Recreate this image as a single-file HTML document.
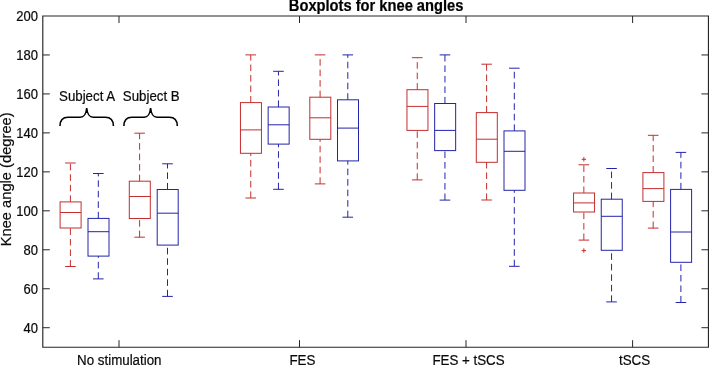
<!DOCTYPE html>
<html><head><meta charset="utf-8"><style>
html,body{margin:0;padding:0;background:#fff;width:709px;height:365px;overflow:hidden}
svg{display:block}
.t,.ts,.tx,.yl,.ti{font-family:"Liberation Sans",sans-serif;fill:#0a0a0a;stroke:#0a0a0a;stroke-width:0.2px}
.t{font-size:13px}
.ts{font-size:13.3px}
.tx{font-size:13.35px}
.ti{font-size:14.7px;font-weight:bold;fill:#000;stroke:#000}
.yl{font-size:14.7px}
</style></head><body>
<svg width="709" height="365" viewBox="0 0 709 365">
<path d="M42.8,16.0H708.45V347.2H42.8Z" fill="none" stroke="#262626" stroke-width="1.15"/>
<path d="M119,347.2V340.2M119,16.0V23.0M299.5,347.2V340.2M299.5,16.0V23.0M466,347.2V340.2M466,16.0V23.0M632.6,347.2V340.2M632.6,16.0V23.0M42.8,327.71H49.8M708.45,327.71H701.45M42.8,288.75H49.8M708.45,288.75H701.45M42.8,249.78H49.8M708.45,249.78H701.45M42.8,210.82H49.8M708.45,210.82H701.45M42.8,171.86H49.8M708.45,171.86H701.45M42.8,132.89H49.8M708.45,132.89H701.45M42.8,93.93H49.8M708.45,93.93H701.45M42.8,54.96H49.8M708.45,54.96H701.45" fill="none" stroke="#262626" stroke-width="1"/>
<line x1="70.40" y1="201.90" x2="70.40" y2="163.00" stroke="#c42e2e" stroke-width="1.0" stroke-dasharray="6.6 3.9"/>
<line x1="70.40" y1="266.50" x2="70.40" y2="228.00" stroke="#c42e2e" stroke-width="1.0" stroke-dasharray="6.6 3.9"/>
<line x1="65.10" y1="163.00" x2="75.70" y2="163.00" stroke="#c42e2e" stroke-width="1.0"/>
<line x1="65.10" y1="266.50" x2="75.70" y2="266.50" stroke="#c42e2e" stroke-width="1.0"/>
<rect x="60.10" y="201.90" width="21.00" height="26.10" fill="none" stroke="#c42e2e" stroke-width="1.0"/>
<line x1="60.10" y1="212.50" x2="81.10" y2="212.50" stroke="#c42e2e" stroke-width="1.0"/>
<line x1="98.30" y1="218.40" x2="98.30" y2="173.50" stroke="#2424aa" stroke-width="1.0" stroke-dasharray="6.6 3.9"/>
<line x1="98.30" y1="278.90" x2="98.30" y2="256.10" stroke="#2424aa" stroke-width="1.0" stroke-dasharray="6.6 3.9"/>
<line x1="93.00" y1="173.50" x2="103.60" y2="173.50" stroke="#2424aa" stroke-width="1.0"/>
<line x1="93.00" y1="278.90" x2="103.60" y2="278.90" stroke="#2424aa" stroke-width="1.0"/>
<rect x="88.00" y="218.40" width="21.00" height="37.70" fill="none" stroke="#2424aa" stroke-width="1.0"/>
<line x1="88.00" y1="231.70" x2="109.00" y2="231.70" stroke="#2424aa" stroke-width="1.0"/>
<line x1="139.60" y1="181.20" x2="139.60" y2="133.20" stroke="#c42e2e" stroke-width="1.0" stroke-dasharray="6.6 3.9"/>
<line x1="139.60" y1="237.20" x2="139.60" y2="218.50" stroke="#c42e2e" stroke-width="1.0" stroke-dasharray="6.6 3.9"/>
<line x1="134.30" y1="133.20" x2="144.90" y2="133.20" stroke="#c42e2e" stroke-width="1.0"/>
<line x1="134.30" y1="237.20" x2="144.90" y2="237.20" stroke="#c42e2e" stroke-width="1.0"/>
<rect x="129.30" y="181.20" width="21.00" height="37.30" fill="none" stroke="#c42e2e" stroke-width="1.0"/>
<line x1="129.30" y1="196.50" x2="150.30" y2="196.50" stroke="#c42e2e" stroke-width="1.0"/>
<line x1="167.50" y1="189.50" x2="167.50" y2="163.80" stroke="#2424aa" stroke-width="1.0" stroke-dasharray="6.6 3.9"/>
<line x1="167.50" y1="296.40" x2="167.50" y2="245.10" stroke="#2424aa" stroke-width="1.0" stroke-dasharray="6.6 3.9"/>
<line x1="162.20" y1="163.80" x2="172.80" y2="163.80" stroke="#2424aa" stroke-width="1.0"/>
<line x1="162.20" y1="296.40" x2="172.80" y2="296.40" stroke="#2424aa" stroke-width="1.0"/>
<rect x="157.20" y="189.50" width="21.00" height="55.60" fill="none" stroke="#2424aa" stroke-width="1.0"/>
<line x1="157.20" y1="213.20" x2="178.20" y2="213.20" stroke="#2424aa" stroke-width="1.0"/>
<line x1="250.75" y1="102.60" x2="250.75" y2="54.90" stroke="#c42e2e" stroke-width="1.0" stroke-dasharray="6.6 3.9"/>
<line x1="250.75" y1="198.00" x2="250.75" y2="153.30" stroke="#c42e2e" stroke-width="1.0" stroke-dasharray="6.6 3.9"/>
<line x1="245.45" y1="54.90" x2="256.05" y2="54.90" stroke="#c42e2e" stroke-width="1.0"/>
<line x1="245.45" y1="198.00" x2="256.05" y2="198.00" stroke="#c42e2e" stroke-width="1.0"/>
<rect x="240.45" y="102.60" width="21.00" height="50.70" fill="none" stroke="#c42e2e" stroke-width="1.0"/>
<line x1="240.45" y1="129.90" x2="261.45" y2="129.90" stroke="#c42e2e" stroke-width="1.0"/>
<line x1="278.45" y1="107.00" x2="278.45" y2="71.30" stroke="#2424aa" stroke-width="1.0" stroke-dasharray="6.6 3.9"/>
<line x1="278.45" y1="189.30" x2="278.45" y2="144.10" stroke="#2424aa" stroke-width="1.0" stroke-dasharray="6.6 3.9"/>
<line x1="273.15" y1="71.30" x2="283.75" y2="71.30" stroke="#2424aa" stroke-width="1.0"/>
<line x1="273.15" y1="189.30" x2="283.75" y2="189.30" stroke="#2424aa" stroke-width="1.0"/>
<rect x="268.15" y="107.00" width="21.00" height="37.10" fill="none" stroke="#2424aa" stroke-width="1.0"/>
<line x1="268.15" y1="124.80" x2="289.15" y2="124.80" stroke="#2424aa" stroke-width="1.0"/>
<line x1="320.10" y1="97.20" x2="320.10" y2="54.90" stroke="#c42e2e" stroke-width="1.0" stroke-dasharray="6.6 3.9"/>
<line x1="320.10" y1="183.90" x2="320.10" y2="139.30" stroke="#c42e2e" stroke-width="1.0" stroke-dasharray="6.6 3.9"/>
<line x1="314.80" y1="54.90" x2="325.40" y2="54.90" stroke="#c42e2e" stroke-width="1.0"/>
<line x1="314.80" y1="183.90" x2="325.40" y2="183.90" stroke="#c42e2e" stroke-width="1.0"/>
<rect x="309.80" y="97.20" width="21.00" height="42.10" fill="none" stroke="#c42e2e" stroke-width="1.0"/>
<line x1="309.80" y1="117.80" x2="330.80" y2="117.80" stroke="#c42e2e" stroke-width="1.0"/>
<line x1="347.80" y1="99.80" x2="347.80" y2="54.90" stroke="#2424aa" stroke-width="1.0" stroke-dasharray="6.6 3.9"/>
<line x1="347.80" y1="217.20" x2="347.80" y2="160.90" stroke="#2424aa" stroke-width="1.0" stroke-dasharray="6.6 3.9"/>
<line x1="342.50" y1="54.90" x2="353.10" y2="54.90" stroke="#2424aa" stroke-width="1.0"/>
<line x1="342.50" y1="217.20" x2="353.10" y2="217.20" stroke="#2424aa" stroke-width="1.0"/>
<rect x="337.50" y="99.80" width="21.00" height="61.10" fill="none" stroke="#2424aa" stroke-width="1.0"/>
<line x1="337.50" y1="128.10" x2="358.50" y2="128.10" stroke="#2424aa" stroke-width="1.0"/>
<line x1="417.25" y1="89.70" x2="417.25" y2="57.70" stroke="#c42e2e" stroke-width="1.0" stroke-dasharray="6.6 3.9"/>
<line x1="417.25" y1="179.90" x2="417.25" y2="130.40" stroke="#c42e2e" stroke-width="1.0" stroke-dasharray="6.6 3.9"/>
<line x1="411.95" y1="57.70" x2="422.55" y2="57.70" stroke="#c42e2e" stroke-width="1.0"/>
<line x1="411.95" y1="179.90" x2="422.55" y2="179.90" stroke="#c42e2e" stroke-width="1.0"/>
<rect x="406.95" y="89.70" width="21.00" height="40.70" fill="none" stroke="#c42e2e" stroke-width="1.0"/>
<line x1="406.95" y1="106.40" x2="427.95" y2="106.40" stroke="#c42e2e" stroke-width="1.0"/>
<line x1="444.95" y1="103.50" x2="444.95" y2="54.90" stroke="#2424aa" stroke-width="1.0" stroke-dasharray="6.6 3.9"/>
<line x1="444.95" y1="200.10" x2="444.95" y2="150.60" stroke="#2424aa" stroke-width="1.0" stroke-dasharray="6.6 3.9"/>
<line x1="439.65" y1="54.90" x2="450.25" y2="54.90" stroke="#2424aa" stroke-width="1.0"/>
<line x1="439.65" y1="200.10" x2="450.25" y2="200.10" stroke="#2424aa" stroke-width="1.0"/>
<rect x="434.65" y="103.50" width="21.00" height="47.10" fill="none" stroke="#2424aa" stroke-width="1.0"/>
<line x1="434.65" y1="130.40" x2="455.65" y2="130.40" stroke="#2424aa" stroke-width="1.0"/>
<line x1="486.60" y1="112.60" x2="486.60" y2="64.20" stroke="#c42e2e" stroke-width="1.0" stroke-dasharray="6.6 3.9"/>
<line x1="486.60" y1="200.00" x2="486.60" y2="162.30" stroke="#c42e2e" stroke-width="1.0" stroke-dasharray="6.6 3.9"/>
<line x1="481.30" y1="64.20" x2="491.90" y2="64.20" stroke="#c42e2e" stroke-width="1.0"/>
<line x1="481.30" y1="200.00" x2="491.90" y2="200.00" stroke="#c42e2e" stroke-width="1.0"/>
<rect x="476.30" y="112.60" width="21.00" height="49.70" fill="none" stroke="#c42e2e" stroke-width="1.0"/>
<line x1="476.30" y1="139.20" x2="497.30" y2="139.20" stroke="#c42e2e" stroke-width="1.0"/>
<line x1="514.30" y1="130.90" x2="514.30" y2="68.20" stroke="#2424aa" stroke-width="1.0" stroke-dasharray="6.6 3.9"/>
<line x1="514.30" y1="266.30" x2="514.30" y2="190.30" stroke="#2424aa" stroke-width="1.0" stroke-dasharray="6.6 3.9"/>
<line x1="509.00" y1="68.20" x2="519.60" y2="68.20" stroke="#2424aa" stroke-width="1.0"/>
<line x1="509.00" y1="266.30" x2="519.60" y2="266.30" stroke="#2424aa" stroke-width="1.0"/>
<rect x="504.00" y="130.90" width="21.00" height="59.40" fill="none" stroke="#2424aa" stroke-width="1.0"/>
<line x1="504.00" y1="151.30" x2="525.00" y2="151.30" stroke="#2424aa" stroke-width="1.0"/>
<line x1="583.85" y1="193.00" x2="583.85" y2="164.80" stroke="#c42e2e" stroke-width="1.0" stroke-dasharray="6.6 3.9"/>
<line x1="583.85" y1="240.10" x2="583.85" y2="212.00" stroke="#c42e2e" stroke-width="1.0" stroke-dasharray="6.6 3.9"/>
<line x1="578.55" y1="164.80" x2="589.15" y2="164.80" stroke="#c42e2e" stroke-width="1.0"/>
<line x1="578.55" y1="240.10" x2="589.15" y2="240.10" stroke="#c42e2e" stroke-width="1.0"/>
<rect x="573.55" y="193.00" width="21.00" height="19.00" fill="none" stroke="#c42e2e" stroke-width="1.0"/>
<line x1="573.55" y1="202.90" x2="594.55" y2="202.90" stroke="#c42e2e" stroke-width="1.0"/>
<line x1="611.55" y1="199.20" x2="611.55" y2="168.50" stroke="#2424aa" stroke-width="1.0" stroke-dasharray="6.6 3.9"/>
<line x1="611.55" y1="301.90" x2="611.55" y2="250.30" stroke="#2424aa" stroke-width="1.0" stroke-dasharray="6.6 3.9"/>
<line x1="606.25" y1="168.50" x2="616.85" y2="168.50" stroke="#2424aa" stroke-width="1.0"/>
<line x1="606.25" y1="301.90" x2="616.85" y2="301.90" stroke="#2424aa" stroke-width="1.0"/>
<rect x="601.25" y="199.20" width="21.00" height="51.10" fill="none" stroke="#2424aa" stroke-width="1.0"/>
<line x1="601.25" y1="216.30" x2="622.25" y2="216.30" stroke="#2424aa" stroke-width="1.0"/>
<line x1="653.20" y1="172.60" x2="653.20" y2="135.30" stroke="#c42e2e" stroke-width="1.0" stroke-dasharray="6.6 3.9"/>
<line x1="653.20" y1="228.10" x2="653.20" y2="201.40" stroke="#c42e2e" stroke-width="1.0" stroke-dasharray="6.6 3.9"/>
<line x1="647.90" y1="135.30" x2="658.50" y2="135.30" stroke="#c42e2e" stroke-width="1.0"/>
<line x1="647.90" y1="228.10" x2="658.50" y2="228.10" stroke="#c42e2e" stroke-width="1.0"/>
<rect x="642.90" y="172.60" width="21.00" height="28.80" fill="none" stroke="#c42e2e" stroke-width="1.0"/>
<line x1="642.90" y1="188.60" x2="663.90" y2="188.60" stroke="#c42e2e" stroke-width="1.0"/>
<line x1="680.90" y1="189.40" x2="680.90" y2="152.40" stroke="#2424aa" stroke-width="1.0" stroke-dasharray="6.6 3.9"/>
<line x1="680.90" y1="302.50" x2="680.90" y2="262.30" stroke="#2424aa" stroke-width="1.0" stroke-dasharray="6.6 3.9"/>
<line x1="675.60" y1="152.40" x2="686.20" y2="152.40" stroke="#2424aa" stroke-width="1.0"/>
<line x1="675.60" y1="302.50" x2="686.20" y2="302.50" stroke="#2424aa" stroke-width="1.0"/>
<rect x="670.60" y="189.40" width="21.00" height="72.90" fill="none" stroke="#2424aa" stroke-width="1.0"/>
<line x1="670.60" y1="232.00" x2="691.60" y2="232.00" stroke="#2424aa" stroke-width="1.0"/>
<path d="M581.65,159.30H586.05M583.85,157.10V161.50" stroke="#c42e2e" stroke-width="1.0"/>
<path d="M581.65,250.60H586.05M583.85,248.40V252.80" stroke="#c42e2e" stroke-width="1.0"/>
<g style="filter:grayscale(1)">
<text transform="translate(37.90,332.76) scale(1,1.06)" text-anchor="end" class="t">40</text>
<text transform="translate(37.90,293.80) scale(1,1.06)" text-anchor="end" class="t">60</text>
<text transform="translate(37.90,254.83) scale(1,1.06)" text-anchor="end" class="t">80</text>
<text transform="translate(37.90,215.87) scale(1,1.06)" text-anchor="end" class="t">100</text>
<text transform="translate(37.90,176.91) scale(1,1.06)" text-anchor="end" class="t">120</text>
<text transform="translate(37.90,137.94) scale(1,1.06)" text-anchor="end" class="t">140</text>
<text transform="translate(37.90,98.98) scale(1,1.06)" text-anchor="end" class="t">160</text>
<text transform="translate(37.90,60.01) scale(1,1.06)" text-anchor="end" class="t">180</text>
<text transform="translate(37.90,21.05) scale(1,1.06)" text-anchor="end" class="t">200</text>
<text transform="translate(119.30,365.00) scale(1,1.1)" text-anchor="middle" class="tx">No stimulation</text>
<text transform="translate(302.40,365.00) scale(1,1.1)" text-anchor="middle" class="tx">FES</text>
<text transform="translate(468.50,365.00) scale(1,1.1)" text-anchor="middle" class="tx">FES + tSCS</text>
<text transform="translate(634.50,365.00) scale(1,1.1)" text-anchor="middle" class="tx">tSCS</text>
<text transform="translate(376.10,10.70) scale(1,1.06)" text-anchor="middle" class="ti">Boxplots for knee angles</text>
<text transform="translate(11,179.35) rotate(-90)" text-anchor="middle" class="yl">Knee angle (degree)</text>
<text transform="translate(87.10,100.80) scale(1,1.06)" text-anchor="middle" class="ts">Subject A</text>
<text transform="translate(151.30,100.80) scale(1,1.06)" text-anchor="middle" class="ts">Subject B</text>
</g>
<path d="M60.0,126.0 C60.0,119.7 63.0,117.2 68.0,117.2 L80.2,117.2 C84.2,117.2 86.0,115.0 86.7,108.0 C87.4,115.0 89.2,117.2 93.2,117.2 L105.4,117.2 C110.4,117.2 113.4,119.7 113.4,126.0 M123.9,126.0 C123.9,119.7 126.9,117.2 131.9,117.2 L144.10000000000002,117.2 C148.10000000000002,117.2 149.90000000000003,115.0 150.60000000000002,108.0 C151.3,115.0 153.10000000000002,117.2 157.10000000000002,117.2 L169.3,117.2 C174.3,117.2 177.3,119.7 177.3,126.0" fill="none" stroke="#000" stroke-width="1.6" stroke-linecap="butt"/>
</svg>
</body></html>
